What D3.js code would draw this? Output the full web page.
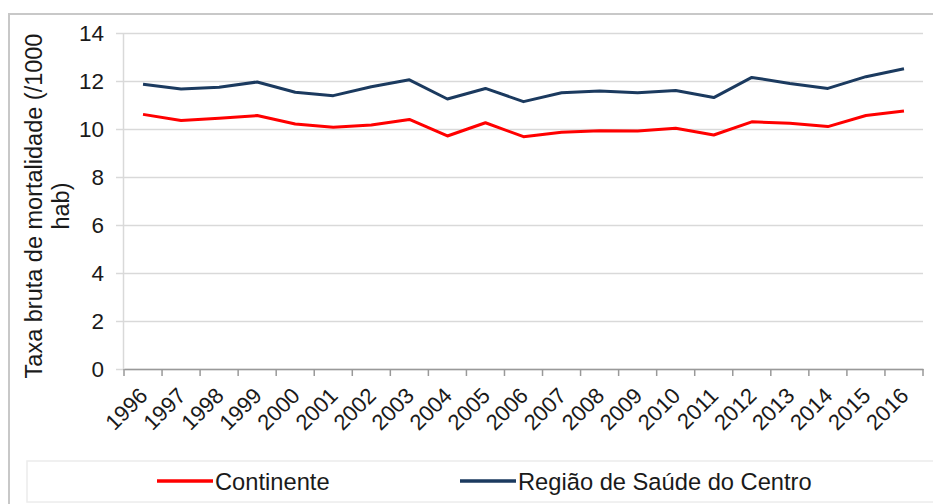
<!DOCTYPE html>
<html>
<head>
<meta charset="utf-8">
<script src="https://cdn.jsdelivr.net/npm/d3@7"></script>
<style>
  html, body { margin: 0; padding: 0; background: #fff; }
  svg { display: block; font-family: "Liberation Sans", Arial, sans-serif; }
</style>
</head>
<body>
<svg id="chart" width="933" height="504"></svg>
<script>
const years = ["1996", "1997", "1998", "1999", "2000", "2001", "2002", "2003", "2004", "2005", "2006",
  "2007", "2008", "2009", "2010", "2011", "2012", "2013", "2014", "2015", "2016"]
const continente = [10.61, 10.35, 10.45, 10.56, 10.21, 10.07, 10.17, 10.40, 9.71, 10.26, 9.68,
  9.86, 9.93, 9.92, 10.03, 9.75, 10.30, 10.24, 10.10, 10.56, 10.75]
const centro = [11.86, 11.67, 11.74, 11.96, 11.53, 11.39, 11.76, 12.05, 11.25, 11.69, 11.14,
  11.51, 11.58, 11.51, 11.60, 11.31, 12.15, 11.90, 11.69, 12.18, 12.51]
const yTicks = [0, 2, 4, 6, 8, 10, 12, 14]
const seriesNames = ["Continente", "Região de Saúde do Centro"]
const seriesColors = ["#ff0000", "#1b3a5f"]

const svg = d3.select("#chart")
const textColor = "#1a1a1a"

// outer frame
svg.append("rect")
  .attr("x", 9).attr("y", 14).attr("width", 940).attr("height", 500)
  .attr("fill", "none").attr("stroke", "#c8c8c8").attr("stroke-width", 2)

const plotLeft = 124, plotRight = 923, plotTop = 33, plotBottom = 369

const x = d3.scaleBand().domain(years).range([plotLeft, plotRight])
const y = d3.scaleLinear().domain([0, 14]).range([plotBottom, plotTop])
const cx = (d) => x(d) + x.bandwidth() / 2

// gridlines + y axis
const yAxis = d3.axisLeft(y).tickValues(yTicks).tickSize(plotRight - plotLeft + 8).tickPadding(12)
const gy = svg.append("g").attr("transform", `translate(${plotRight},0)`).call(yAxis)
gy.select(".domain").remove()
gy.selectAll(".tick line").attr("stroke", "#d9d9d9").attr("stroke-width", 1.5)
gy.selectAll(".tick text")
  .attr("fill", textColor).attr("font-size", 22.5)
  .attr("font-family", "Liberation Sans, Arial, sans-serif")

svg.append("line")
  .attr("x1", plotLeft - 0.5).attr("x2", plotLeft - 0.5).attr("y1", plotTop).attr("y2", plotBottom)
  .attr("stroke", "#d9d9d9").attr("stroke-width", 1.5)

// x axis
const xAxis = d3.axisBottom(x).tickSizeOuter(0).tickSize(0)
const gx = svg.append("g").attr("transform", `translate(0,${plotBottom})`).call(xAxis)
gx.select(".domain").attr("stroke", "#999").attr("stroke-width", 1.5)
gx.selectAll(".tick line").remove()
gx.selectAll(".tick text")
  .attr("fill", textColor).attr("font-size", 22)
  .attr("font-family", "Liberation Sans, Arial, sans-serif")
  .attr("text-anchor", "end")
  .attr("y", 0).attr("dy", 0)
  .attr("transform", "translate(6,28) rotate(-45)")

// boundary ticks on the category axis
const edges = years.map((d) => x(d)).concat([plotRight])
svg.append("g").selectAll("line").data(edges).join("line")
  .attr("x1", (d) => d).attr("x2", (d) => d)
  .attr("y1", plotBottom).attr("y2", plotBottom + 7)
  .attr("stroke", "#999").attr("stroke-width", 1.5)

// lines
const line = d3.line().x((d, i) => cx(years[i])).y((d) => y(d))
;[continente, centro].forEach((s, i) => {
  svg.append("path")
    .datum(s)
    .attr("d", line)
    .attr("fill", "none")
    .attr("stroke", seriesColors[i])
    .attr("stroke-width", 3)
    .attr("stroke-linejoin", "round")
})

// y axis title
svg.append("text")
  .attr("transform", `translate(0,${(plotTop + plotBottom) / 2 + 5}) rotate(-90)`)
  .attr("text-anchor", "middle")
  .attr("fill", textColor).attr("font-size", 23.5)
  .selectAll("tspan").data(["Taxa bruta de mortalidade (/1000", "hab)"]).join("tspan")
  .attr("x", 0).attr("y", (d, i) => 42 + i * 27)
  .text((d) => d)

// legend
svg.append("rect")
  .attr("x", 27).attr("y", 461).attr("width", 920).attr("height", 41)
  .attr("fill", "none").attr("stroke", "#ececec").attr("stroke-width", 1.5)

const legendX = [157, 460]
const lg = svg.append("g").selectAll("g").data(seriesNames).join("g")
  .attr("transform", (d, i) => `translate(${legendX[i]},481)`)
lg.append("line")
  .attr("x1", 0).attr("x2", 56).attr("y1", 0).attr("y2", 0)
  .attr("stroke", (d, i) => seriesColors[i]).attr("stroke-width", 3.5)
lg.append("text")
  .attr("x", 58).attr("y", 8.5)
  .attr("fill", textColor).attr("font-size", 23.7)
  .text((d) => d)
</script>
</body>
</html>
